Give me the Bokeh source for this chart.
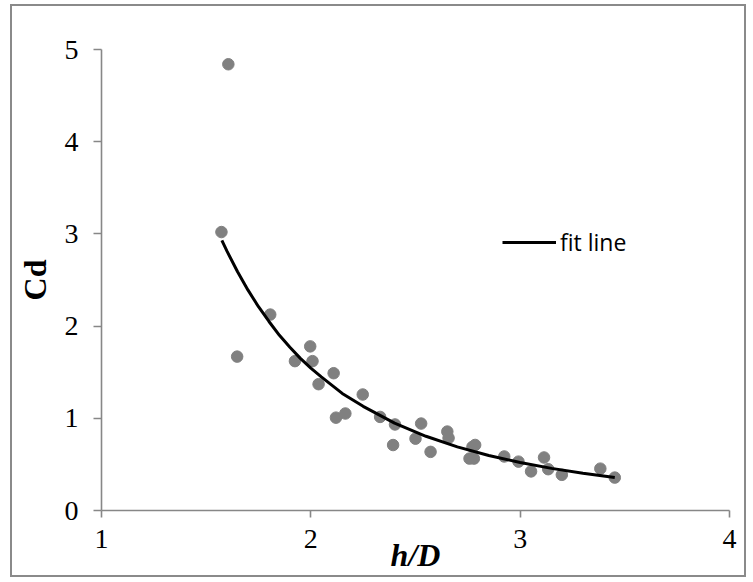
from bokeh.plotting import figure
from bokeh.models import Range1d, Legend, LegendItem
from bokeh.embed import file_html
from bokeh.resources import INLINE

# scatter data (h/D, Cd)
hd = [1.606, 1.573, 1.806, 1.648, 1.997, 1.924, 2.008, 2.109, 2.037, 2.248,
      2.120, 2.165, 2.331, 2.402, 2.527, 2.393, 2.500, 2.572, 2.652, 2.658,
      2.758, 2.779, 2.772, 2.785, 2.924, 2.992, 3.052, 3.114, 3.134, 3.199,
      3.383, 3.452]
cd = [4.84, 3.02, 2.125, 1.669, 1.78, 1.62, 1.62, 1.489, 1.37, 1.258,
      1.007, 1.052, 1.015, 0.933, 0.943, 0.71, 0.779, 0.636, 0.856, 0.786,
      0.563, 0.563, 0.69, 0.711, 0.586, 0.53, 0.424, 0.575, 0.448, 0.387,
      0.454, 0.357]

# fit line points
fit_hd = [1.575, 1.60, 1.65, 1.70, 1.75, 1.80, 1.85, 1.90, 1.95, 2.00, 2.05,
          2.10, 2.15, 2.25, 2.40, 2.55, 2.70, 2.85, 3.00, 3.15, 3.30, 3.452]
fit_cd = [2.93, 2.81, 2.59, 2.39, 2.21, 2.05, 1.90, 1.77, 1.65, 1.545, 1.45,
          1.36, 1.27, 1.13, 0.947, 0.805, 0.690, 0.597, 0.520, 0.457, 0.403,
          0.357]

x_ticks = [1, 2, 3, 4]
y_ticks = [0, 1, 2, 3, 4, 5]
x_title = "h/D"
y_title = "Cd"
legend_label = "fit line"

# canvas sits inside a 2px grey border whose outer box spans (10,4)-(750,581)
W, H = 736, 573
p = figure(width=W, height=H, output_backend="svg", toolbar_location=None,
           x_range=Range1d(1, 4), y_range=Range1d(0, 5),
           min_border_left=89, min_border_top=43,
           min_border_right=19, min_border_bottom=69)
p.styles = {"border": "2px solid #8a8a8a", "margin-left": "10px",
            "margin-top": "4px"}
p.background_fill_color = "white"
p.border_fill_color = "white"
p.outline_line_color = None
p.xgrid.visible = False
p.ygrid.visible = False

axis_gray = "#878787"
for ax in (p.xaxis[0], p.yaxis[0]):
    ax.axis_line_color = axis_gray
    ax.axis_line_width = 1.6
    ax.major_tick_line_color = axis_gray
    ax.major_tick_line_width = 1.6
    ax.minor_tick_line_color = None
    ax.major_tick_in = 0
    ax.major_label_text_font = "Liberation Serif"
    ax.major_label_text_font_size = "28px"
    ax.major_label_text_color = "black"
    ax.axis_label_text_font = "Liberation Serif"
    ax.axis_label_text_font_size = "32px"
    ax.axis_label_text_color = "black"

p.xaxis.ticker = x_ticks
p.yaxis.ticker = y_ticks
p.xaxis.major_tick_out = 7
p.yaxis.major_tick_out = 8
p.xaxis.major_label_standoff = 12
p.yaxis.major_label_standoff = 15

p.xaxis.axis_label = x_title
p.xaxis.axis_label_text_font_style = "bold italic"
p.xaxis.axis_label_standoff = -14
p.yaxis.axis_label = y_title
p.yaxis.axis_label_text_font_style = "bold"
p.yaxis.axis_label_standoff = 9

p.scatter(hd, cd, size=11.5, color="#808080")
fit = p.line(fit_hd, fit_cd, line_width=3, color="black")

legend = Legend(items=[LegendItem(label=legend_label, renderers=[fit])],
                location=(401, 251.7), padding=0, margin=0, spacing=0,
                glyph_width=54, glyph_height=32, label_height=32,
                label_standoff=4, label_text_font="Open Sans",
                label_text_font_size="23px", label_text_color="black",
                border_line_color=None, background_fill_alpha=0)
p.add_layout(legend)

open("out.html", "w").write(file_html(p, INLINE))
